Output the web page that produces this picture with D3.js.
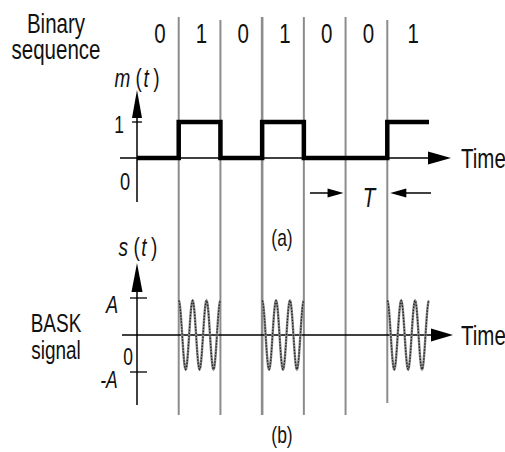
<!DOCTYPE html>
<html><head><meta charset="utf-8">
<script src="https://cdn.jsdelivr.net/npm/d3@7"></script>
<style>body{margin:0;background:#fff}svg{display:block}</style>
</head><body>
<script>
// ---- data ----
const bits = [0, 1, 0, 1, 0, 0, 1];
const bitLabels = ["0", "1", "0", "1", "0", "0", "1"];
const mTicks = [{v: 1, label: "1"}, {v: 0, label: "0"}];
const sTicks = [{v: 1, label: "A"}, {v: -1, label: "-A"}];
const cyclesPerBit = 3;
const carrierAmp = 0.93;
const panelLabels = ["(a)", "(b)"];

const W = 505, H = 452;
const svg = d3.select("body").append("svg").attr("width", W).attr("height", H);

const x = d3.scaleLinear().domain([0, bits.length]).range([137, 429]);
const yM = d3.scaleLinear().domain([0, 1]).range([158, 122]);
const yS = d3.scaleLinear().domain([-1, 1]).range([372, 298]);

const SX = 0.76;
function label(px, py, txt, size, opts = {}) {
  const t = svg.append("text")
    .attr("transform", `translate(${px},${py}) scale(${SX},1)`)
    .attr("text-anchor", opts.anchor || "middle")
    .attr("font-family", "Liberation Sans, Arial, sans-serif")
    .attr("font-size", size)
    .attr("fill", "#111");
  if (opts.italic) t.attr("font-style", "italic");
  if (Array.isArray(txt)) {
    txt.forEach(p => {
      const s = t.append("tspan").text(p.t);
      if (p.i) s.attr("font-style", "italic");
      if (p.dx) s.attr("dx", p.dx);
    });
  } else t.text(txt);
  return t;
}

function arrowHead(tipX, tipY, dir, len, wid) {
  let pts;
  if (dir === "right") pts = [[tipX, tipY], [tipX - len, tipY - wid / 2], [tipX - len, tipY + wid / 2]];
  if (dir === "left") pts = [[tipX, tipY], [tipX + len, tipY - wid / 2], [tipX + len, tipY + wid / 2]];
  if (dir === "up") pts = [[tipX, tipY], [tipX - wid / 2, tipY + len], [tipX + wid / 2, tipY + len]];
  svg.append("polygon").attr("points", pts.map(p => p.join(",")).join(" ")).attr("fill", "#000");
}

// ---- vertical bit boundary lines ----
const bounds = d3.range(1, bits.length);
svg.selectAll("line.bound").data(bounds).join("line")
  .attr("class", "bound")
  .attr("x1", d => x(d)).attr("x2", d => x(d))
  .attr("y1", d => d === 2 || d === 6 ? 20 : 17)
  .attr("y2", d => d === 6 ? 403 : 415)
  .attr("stroke", "#8c8c8c").attr("stroke-width", d => d === 3 ? 2.6 : 2);

// ---- labels left ----
label(56, 33, "Binary", 27);
label(56, 59, "sequence", 27);
label(56, 332, "BASK", 25);
label(56, 359, "signal", 25);

// bit labels
bitLabels.forEach((b, i) => label(x(i + 0.5) + (i === 6 ? 5 : 2), 43, b, 27));

// ---- top axes ----
svg.append("line").attr("x1", 120).attr("x2", 440).attr("y1", yM(0)).attr("y2", yM(0))
  .attr("stroke", "#000").attr("stroke-width", 1.5);
arrowHead(451, yM(0), "right", 23, 13);
svg.append("line").attr("x1", x(0)).attr("x2", x(0)).attr("y1", 202).attr("y2", 110)
  .attr("stroke", "#000").attr("stroke-width", 1.5);
arrowHead(x(0), 90, "up", 28, 10);
svg.append("line").attr("x1", x(0) - 5).attr("x2", x(0) + 5).attr("y1", yM(1)).attr("y2", yM(1))
  .attr("stroke", "#000").attr("stroke-width", 1.3);
label(119, 133, mTicks[0].label, 23);
label(125, 190, mTicks[1].label, 24);
label(137, 87, [{t: "m", i: true}, {t: "(", dx: 7}, {t: "t", i: true, dx: 2}, {t: ")", dx: 6}], 25);
label(461, 168, "Time", 27, {anchor: "start"});

// square wave m(t)
const sq = [];
bits.forEach((b, i) => { sq.push([x(i), yM(b)]); sq.push([x(i + 1), yM(b)]); });
svg.append("path").attr("d", d3.line()(sq))
  .attr("fill", "none").attr("stroke", "#000").attr("stroke-width", 4.5)
  .attr("stroke-linejoin", "miter").attr("stroke-linecap", "butt");

// T arrows
const Ty = 193;
svg.append("line").attr("x1", 310).attr("x2", x(5) - 14).attr("y1", Ty).attr("y2", Ty).attr("stroke", "#000").attr("stroke-width", 1.5);
arrowHead(x(5) - 2, Ty, "right", 16, 9);
svg.append("line").attr("x1", x(6) + 14).attr("x2", 431).attr("y1", Ty).attr("y2", Ty).attr("stroke", "#000").attr("stroke-width", 1.5);
arrowHead(x(6) + 3, Ty, "left", 16, 9);
label(369, 207, "T", 27, {italic: true});

label(282, 246, panelLabels[0], 23);

// ---- bottom axes ----
svg.append("line").attr("x1", 122).attr("x2", 440).attr("y1", yS(0)).attr("y2", yS(0))
  .attr("stroke", "#000").attr("stroke-width", 1.5);
arrowHead(453, yS(0), "right", 22, 13);
svg.append("line").attr("x1", x(0)).attr("x2", x(0)).attr("y1", 405).attr("y2", 285)
  .attr("stroke", "#000").attr("stroke-width", 1.5);
arrowHead(x(0), 263, "up", 29, 11);
sTicks.forEach(t => {
  svg.append("line").attr("x1", x(0) - 7).attr("x2", x(0) + 10).attr("y1", yS(t.v)).attr("y2", yS(t.v))
    .attr("stroke", "#000").attr("stroke-width", 1.3);
});
label(112, 313, sTicks[0].label, 24, {italic: true});
label(109, 388, sTicks[1].label, 23, {italic: true});
label(128, 365, "0", 23);
label(138, 256, [{t: "s", i: true}, {t: "(", dx: 7}, {t: "t", i: true, dx: 2}, {t: ")", dx: 6}], 25);
label(461, 345, "Time", 27, {anchor: "start"});

// BASK signal
bits.forEach((b, i) => {
  if (!b) return;
  const pts = d3.range(0, 121).map(k => {
    const u = k / 120;
    return [x(i + u), yS(carrierAmp * Math.cos(2 * Math.PI * cyclesPerBit * u))];
  });
  svg.append("path").attr("d", d3.line()(pts))
    .attr("fill", "none").attr("stroke", "#888").attr("stroke-width", 2.4);
  svg.append("path").attr("d", d3.line()(pts))
    .attr("fill", "none").attr("stroke", "#222").attr("stroke-width", 1.3)
    .attr("stroke-dasharray", "1.5,1.5");
});

label(282, 443, panelLabels[1], 23);
</script>
</body></html>
